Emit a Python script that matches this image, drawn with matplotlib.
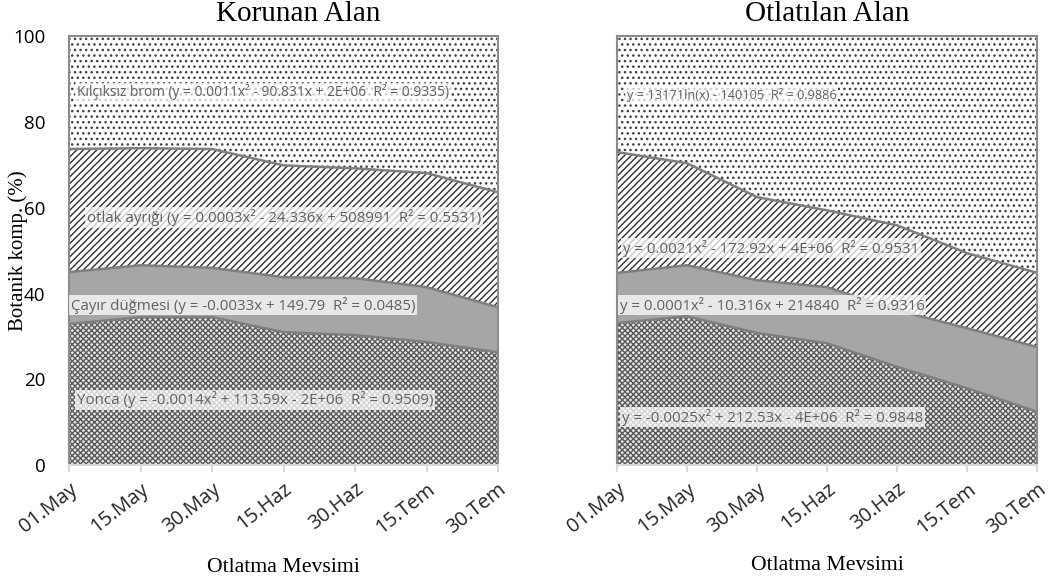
import matplotlib.pyplot as plt
import numpy as np

dates = ["01.May", "15.May", "30.May", "15.Haz", "30.Haz", "15.Tem", "30.Tem"]

# Korunan alan - cumulative top of each layer (%)
kor_yonca = [32.9, 34.5, 34.5, 31.0, 30.3, 28.7, 26.3]
kor_cayir = [45.0, 46.6, 46.0, 43.8, 43.6, 41.5, 36.8]
kor_otlak = [73.7, 73.9, 73.7, 69.9, 69.2, 68.1, 63.6]
kor_brom = [100, 100, 100, 100, 100, 100, 100]

# Otlatilan alan
otl_yonca = [33.1, 34.7, 30.8, 28.4, 22.9, 17.9, 12.4]
otl_cayir = [44.8, 46.6, 43.1, 41.5, 36.1, 31.9, 27.5]
otl_otlak = [73.0, 70.4, 62.5, 59.4, 55.9, 49.4, 44.8]
otl_brom = [100, 100, 100, 100, 100, 100, 100]

# trend line equations
kor_eq = [
    "Kılçıksız brom (y = 0.0011x² - 90.831x + 2E+06  R² = 0.9335)",
    "otlak ayrığı (y = 0.0003x² - 24.336x + 508991  R² = 0.5531)",
    "Çayır düğmesi (y = -0.0033x + 149.79  R² = 0.0485)",
    "Yonca (y = -0.0014x² + 113.59x - 2E+06  R² = 0.9509)",
]
otl_eq = [
    "y = 13171ln(x) - 140105  R² = 0.9886",
    "y = 0.0021x² - 172.92x + 4E+06  R² = 0.9531",
    "y = 0.0001x² - 10.316x + 214840  R² = 0.9316",
    "y = -0.0025x² + 212.53x - 4E+06  R² = 0.9848",
]
# where the equations sit (x in date steps, y in %) and their font size
kor_eq_pos = [(0.11, 86.9), (0.25, 57.8), (0.03, 37.3), (0.11, 15.2)]
otl_eq_pos = [(0.14, 86.2), (0.09, 50.6), (0.04, 37.3), (0.07, 11.2)]
kor_eq_size = [9.9, 10.8, 10.8, 10.8]
otl_eq_size = [9.2, 10.8, 10.8, 10.8]

serif = "Liberation Serif"
sans = ["Open Sans", "DejaVu Sans"]

fig = plt.figure(figsize=(10.49, 5.85), dpi=100)
ax1 = fig.add_axes([0.0658, 0.205, 0.409, 0.733])
ax2 = fig.add_axes([0.588, 0.205, 0.401, 0.733])


def draw(ax, layers, eqs, eq_pos, eq_size, title, title_x, xlab_y):
    x = np.arange(len(dates))
    # fill styles: face colour, hatch colour, hatch
    styles = [
        ("#e6e6e6", "#5a5a5a", "xxxxxx"),
        ("#a6a6a6", "#a6a6a6", None),
        ("white", "#303030", "/////"),
        ("white", "#404040", "..."),
    ]
    lower = np.zeros(len(dates))
    for top, (fc, hc, h) in zip(layers, styles):
        top = np.array(top, dtype=float)
        ax.fill_between(x, lower, top, facecolor=fc, edgecolor=hc,
                        hatch=h, linewidth=0)
        lower = top
    for top in layers[:3]:
        ax.plot(x, top, color="#7f7f7f", lw=1.8)

    for txt, (xp, yp), fs in zip(eqs, eq_pos, eq_size):
        ax.text(xp, yp, txt, fontsize=fs, color="#606060", family=sans,
                va="center", ha="left",
                bbox=dict(boxstyle="square,pad=0.12", fc="white",
                          ec="none", alpha=0.75))

    ax.set_xlim(0, len(dates) - 1)
    ax.set_ylim(0, 100)
    ax.set_xticks(x)
    ax.set_xticklabels(dates, rotation=38, ha="right", va="top",
                       rotation_mode="anchor", fontsize=14.5, family=sans,
                       color="#262626")
    ax.tick_params(axis="x", length=5, color="#d9d9d9", width=1.5, pad=5)
    for s in ["left", "top", "right"]:
        ax.spines[s].set_color("#8c8c8c")
        ax.spines[s].set_linewidth(1.5)
    ax.spines["bottom"].set_color("#d9d9d9")
    ax.spines["bottom"].set_linewidth(1.5)
    ax.text(title_x, 1.051, title, transform=ax.transAxes, ha="center",
            va="center", family=serif, fontsize=21)
    ax.text(0.5, xlab_y, "Otlatma Mevsimi", transform=ax.transAxes,
            ha="center", va="center", family=serif, fontsize=15.7)


draw(ax1, [kor_yonca, kor_cayir, kor_otlak, kor_brom], kor_eq, kor_eq_pos,
     kor_eq_size, "Korunan Alan", 0.535, -0.24)
draw(ax2, [otl_yonca, otl_cayir, otl_otlak, otl_brom], otl_eq, otl_eq_pos,
     otl_eq_size, "Otlatılan Alan", 0.5, -0.234)

ax1.set_yticks(range(0, 101, 20))
ax1.tick_params(axis="y", length=0, labelsize=13.5, pad=17)
for lab in ax1.get_yticklabels():
    lab.set_family(sans)
ax1.set_ylabel("Botanik komp. (%)", family=serif, fontsize=15, labelpad=-11)
ax2.set_yticks([])

fig.savefig("out.png", dpi=100)
